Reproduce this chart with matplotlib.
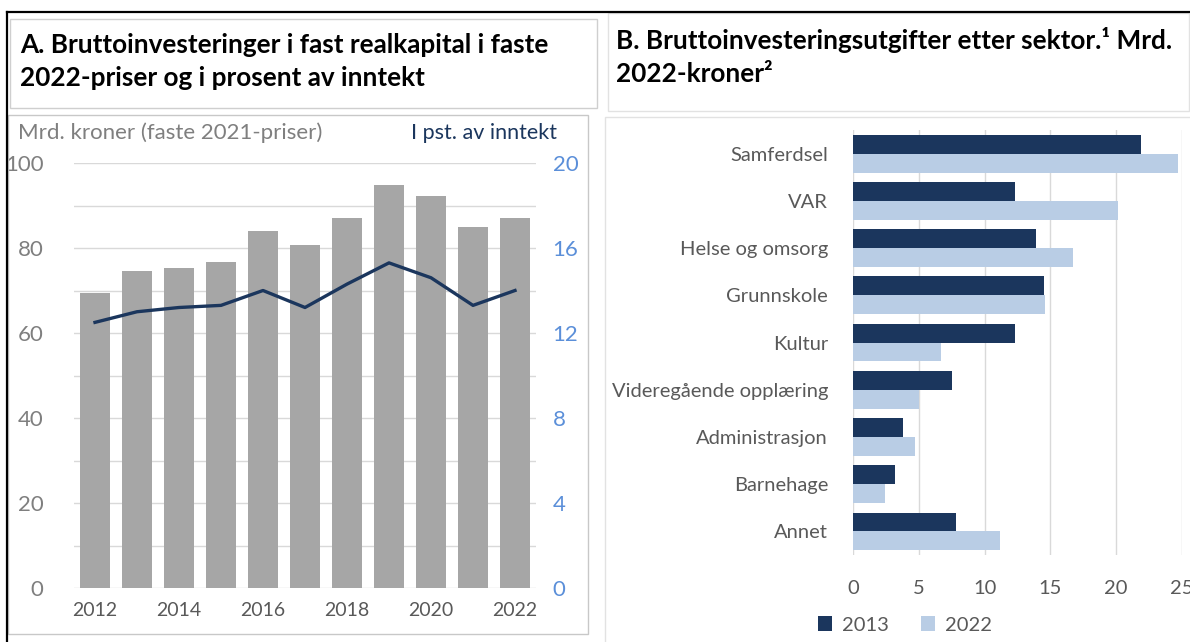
import numpy as np
import matplotlib
matplotlib.use("Agg")
import matplotlib.pyplot as plt
from matplotlib.patches import Rectangle
from matplotlib.lines import Line2D

plt.rcParams['font.family'] = ['Lato', 'DejaVu Sans']

# Panel A: bruttoinvesteringer
years = [2012, 2013, 2014, 2015, 2016, 2017, 2018, 2019, 2020, 2021, 2022]
mrd_kroner = [69.3, 74.6, 75.4, 76.7, 84.0, 80.7, 87.1, 94.9, 92.3, 84.9, 87.1]
pst_inntekt = [12.5, 13.0, 13.2, 13.3, 14.0, 13.2, 14.3, 15.3, 14.6, 13.3, 14.0]
year_ticks = [2012, 2014, 2016, 2018, 2020, 2022]

# Panel B: etter sektor
sektorer = ["Samferdsel", "VAR", "Helse og omsorg", "Grunnskole", "Kultur",
            "Videregående opplæring", "Administrasjon", "Barnehage", "Annet"]
verdier_2013 = [21.9, 12.3, 13.9, 14.5, 12.3, 7.5, 3.8, 3.2, 7.8]
verdier_2022 = [24.7, 20.1, 16.7, 14.6, 6.7, 5.0, 4.7, 2.4, 11.2]

W, H = 1190, 642
GRAY_BAR = "#A6A6A6"
NAVY = "#1B365D"
LIGHT = "#B9CDE5"
TICK_GRAY = "#7F7F7F"
TICK_BLUE = "#5B8FD9"
GRID = "#D9D9D9"

fig = plt.figure(figsize=(W / 100, H / 100), dpi=100)


def px_rect(x0, y0, x1, y1):
    # pikselkoordinater (fra toppen) -> figurandeler
    return [x0 / W, 1 - y1 / H, (x1 - x0) / W, (y1 - y0) / H]


def box(x0, y0, x1, y1, color, lw=1.0):
    l, b, w, h = px_rect(x0, y0, x1, y1)
    fig.add_artist(Rectangle((l, b), w, h, transform=fig.transFigure,
                             fill=False, edgecolor=color, linewidth=lw))


# rammer
box(10, 19, 597, 108, "#CFCFCF")
box(8, 115, 588, 634, "#C8C8C8")
box(608, 13, 1189, 111, "#E2E2E2")
box(605, 117, 1192, 645, "#E2E2E2")
fig.add_artist(Line2D([7 / W, 1], [1 - 12 / H, 1 - 12 / H], transform=fig.transFigure,
                      color="black", linewidth=1.6))
fig.add_artist(Line2D([7 / W, 7 / W], [0, 1 - 12 / H], transform=fig.transFigure,
                      color="black", linewidth=1.6))

# titler
TS = 18.8
fig.text(20 / W, 1 - 45 / H, "A. Bruttoinvesteringer i fast realkapital i faste",
         fontsize=TS, fontweight="bold", va="center", ha="left")
fig.text(20 / W, 1 - 78 / H, "2022-priser og i prosent av inntekt",
         fontsize=TS, fontweight="bold", va="center", ha="left")
fig.text(616 / W, 1 - 40 / H, "B. Bruttoinvesteringsutgifter etter sektor.¹ Mrd.",
         fontsize=TS, fontweight="bold", va="center", ha="left")
fig.text(616 / W, 1 - 74 / H, "2022-kroner²",
         fontsize=TS, fontweight="bold", va="center", ha="left")

fig.text(18 / W, 1 - 133 / H, "Mrd. kroner (faste 2021-priser)",
         fontsize=16, color=TICK_GRAY, va="center", ha="left")
fig.text(557 / W, 1 - 133 / H, "I pst. av inntekt",
         fontsize=15.5, color=NAVY, va="center", ha="right")

# --- Panel A ---
ax = fig.add_axes(px_rect(74, 163, 536, 588))
ax.bar(years, mrd_kroner, width=0.7, color=GRAY_BAR, zorder=2)
ax.set_xlim(2011.5, 2022.5)
ax.set_ylim(0, 100)
ax.set_yticks(np.arange(0, 101, 20))
ax.set_yticks(np.arange(0, 101, 10), minor=True)
ax.grid(axis="y", which="both", color=GRID, linewidth=1, zorder=0)
ax.set_xticks(year_ticks)
ax.tick_params(axis="both", which="both", length=0)
ax.tick_params(axis="y", labelsize=16, labelcolor=TICK_GRAY, pad=22)
ax.tick_params(axis="x", labelsize=14, labelcolor="#595959", pad=10)
for s in ax.spines.values():
    s.set_visible(False)

ax2 = ax.twinx()
ax2.plot(years, pst_inntekt, color=NAVY, linewidth=2.4, zorder=3)
ax2.set_ylim(0, 20)
ax2.set_yticks(np.arange(0, 21, 4))
ax2.tick_params(axis="y", length=0, labelsize=16, labelcolor=TICK_BLUE, pad=12)
for s in ax2.spines.values():
    s.set_visible(False)

# --- Panel B ---
bx = fig.add_axes(px_rect(853, 130, 1182, 555))
y = np.arange(len(sektorer))
h = 0.4
bx.barh(y - h / 2, verdier_2013, height=h, color=NAVY, label="2013", zorder=2)
bx.barh(y + h / 2, verdier_2022, height=h, color=LIGHT, label="2022", zorder=2)
bx.set_ylim(len(sektorer) - 0.5, -0.5)
bx.set_xlim(0, 25)
bx.set_xticks(np.arange(0, 26, 5))
bx.set_yticks(y)
bx.set_yticklabels(sektorer)
bx.grid(axis="x", color=GRID, linewidth=1, zorder=0)
bx.tick_params(axis="both", length=0)
bx.tick_params(axis="y", labelsize=14.5, labelcolor="#595959", pad=18)
bx.tick_params(axis="x", labelsize=14.5, labelcolor="#595959", pad=18)
for lab in bx.get_xticklabels():
    lab.set_clip_on(False)
for s in bx.spines.values():
    s.set_visible(False)

bx.legend(loc="center", bbox_to_anchor=(905 / W, 1 - 625 / H),
          bbox_transform=fig.transFigure, ncol=2, frameon=False,
          fontsize=14.5, handlelength=0.7, handleheight=0.7,
          columnspacing=1.6, handletextpad=0.5, labelcolor="#595959",
          borderpad=0.2)

fig.savefig("out.png", dpi=100)
